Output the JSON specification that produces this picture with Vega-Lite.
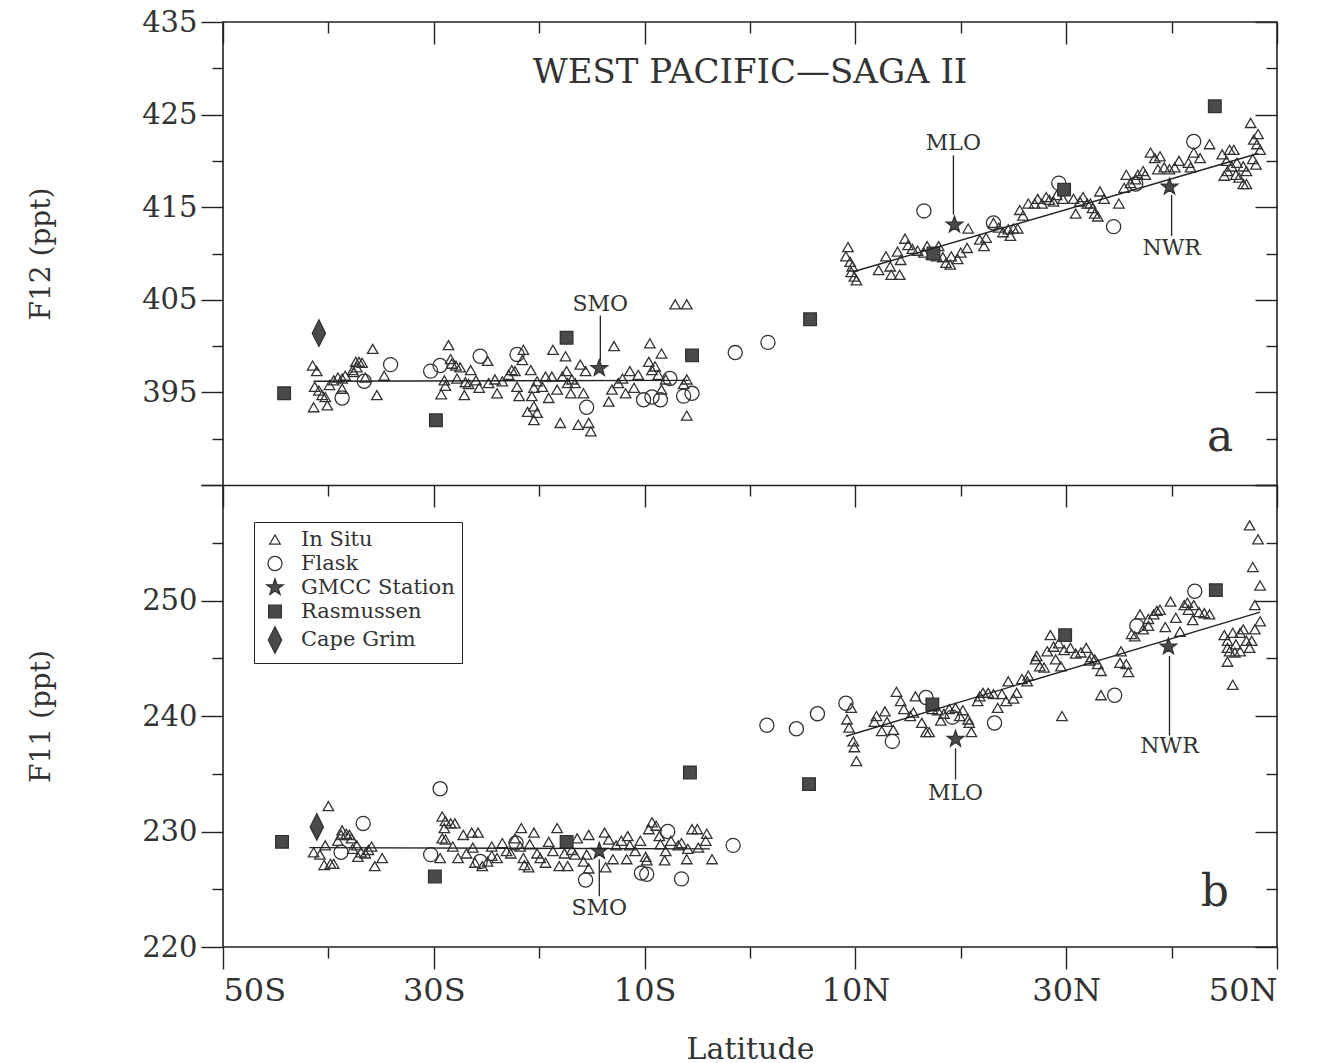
{
"$schema":"https://vega.github.io/schema/vega-lite/v6.json",
"background":"white",
"padding":{"left":27,"top":8,"right":10,"bottom":0},
"width":1054,
"height":925,
"config":{
 "view":{"stroke":"#222","strokeWidth":1.6},
 "font":"DejaVu Serif",
 "axis":{"domain":false,"grid":false,"tickColor":"#222","tickWidth":1.4,"labelFont":"DejaVu Serif","labelFontSize":29,"labelColor":"#333","titleFont":"DejaVu Serif","titleFontSize":28,"titleFontWeight":"normal","titleColor":"#333"},
 "legend":{"orient":"none","legendX":31,"legendY":500,"title":null,"strokeColor":"#222","padding":7,"labelFont":"DejaVu Serif","labelFontSize":21,"labelColor":"#333","rowPadding":2,"symbolStrokeColor":"#333","symbolBaseStrokeColor":"#333","symbolStrokeWidth":1.3,"labelOffset":12,"labelLimit":400},
 "text":{"font":"DejaVu Serif","color":"#333"}
},
"resolve":{"scale":{"y":"independent"},"axis":{"x":"independent","y":"independent"}},
"datasets":{
 "f12":[
{"lat":-41.5,"ppt":397.9,"type":"In Situ"},{"lat":-41.1,"ppt":397.3,"type":"In Situ"},{"lat":-41.3,"ppt":395.6,"type":"In Situ"},{"lat":-40.9,"ppt":395.2,"type":"In Situ"},{"lat":-40.6,"ppt":394.7,"type":"In Situ"},{"lat":-40.3,"ppt":394.5,"type":"In Situ"},{"lat":-41.4,"ppt":393.4,"type":"In Situ"},{"lat":-40.1,"ppt":393.6,"type":"In Situ"},{"lat":-39.9,"ppt":395.8,"type":"In Situ"},{"lat":-39.5,"ppt":396.3,"type":"In Situ"},{"lat":-39.1,"ppt":396.6,"type":"In Situ"},{"lat":-38.7,"ppt":396.5,"type":"In Situ"},{"lat":-38.4,"ppt":396.8,"type":"In Situ"},{"lat":-38.7,"ppt":395.4,"type":"In Situ"},{"lat":-37.7,"ppt":397.4,"type":"In Situ"},{"lat":-37.4,"ppt":398.3,"type":"In Situ"},{"lat":-37.1,"ppt":398.3,"type":"In Situ"},{"lat":-36.8,"ppt":398.2,"type":"In Situ"},{"lat":-37.3,"ppt":397.7,"type":"In Situ"},{"lat":-37.6,"ppt":397.2,"type":"In Situ"},{"lat":-36.5,"ppt":396.6,"type":"In Situ"},{"lat":-35.8,"ppt":399.7,"type":"In Situ"},{"lat":-34.7,"ppt":396.8,"type":"In Situ"},{"lat":-35.4,"ppt":394.7,"type":"In Situ"},
{"lat":-28.6,"ppt":400.1,"type":"In Situ"},{"lat":-28.4,"ppt":398.6,"type":"In Situ"},{"lat":-28.3,"ppt":398.1,"type":"In Situ"},{"lat":-27.9,"ppt":397.9,"type":"In Situ"},{"lat":-27.5,"ppt":397.7,"type":"In Situ"},{"lat":-29.0,"ppt":396.3,"type":"In Situ"},{"lat":-29.3,"ppt":394.8,"type":"In Situ"},{"lat":-28.9,"ppt":395.7,"type":"In Situ"},{"lat":-27.8,"ppt":396.5,"type":"In Situ"},{"lat":-27.0,"ppt":396.1,"type":"In Situ"},{"lat":-26.5,"ppt":397.4,"type":"In Situ"},{"lat":-26.7,"ppt":395.9,"type":"In Situ"},{"lat":-26.0,"ppt":396.3,"type":"In Situ"},{"lat":-27.1,"ppt":394.7,"type":"In Situ"},{"lat":-25.7,"ppt":395.5,"type":"In Situ"},{"lat":-24.9,"ppt":398.4,"type":"In Situ"},{"lat":-24.8,"ppt":396.0,"type":"In Situ"},{"lat":-24.2,"ppt":396.4,"type":"In Situ"},{"lat":-24.0,"ppt":394.9,"type":"In Situ"},{"lat":-23.5,"ppt":396.2,"type":"In Situ"},{"lat":-22.9,"ppt":396.9,"type":"In Situ"},{"lat":-22.6,"ppt":397.4,"type":"In Situ"},{"lat":-22.3,"ppt":397.3,"type":"In Situ"},{"lat":-22.1,"ppt":395.6,"type":"In Situ"},{"lat":-21.9,"ppt":394.6,"type":"In Situ"},{"lat":-21.5,"ppt":399.6,"type":"In Situ"},{"lat":-21.6,"ppt":398.5,"type":"In Situ"},{"lat":-20.8,"ppt":397.4,"type":"In Situ"},{"lat":-20.7,"ppt":394.6,"type":"In Situ"},{"lat":-20.5,"ppt":395.5,"type":"In Situ"},{"lat":-20.2,"ppt":396.2,"type":"In Situ"},{"lat":-19.7,"ppt":395.6,"type":"In Situ"},{"lat":-19.4,"ppt":396.7,"type":"In Situ"},{"lat":-19.1,"ppt":394.4,"type":"In Situ"},{"lat":-18.8,"ppt":396.7,"type":"In Situ"},{"lat":-18.7,"ppt":399.6,"type":"In Situ"},{"lat":-18.3,"ppt":395.3,"type":"In Situ"},{"lat":-17.8,"ppt":396.7,"type":"In Situ"},{"lat":-17.5,"ppt":398.9,"type":"In Situ"},{"lat":-17.4,"ppt":397.3,"type":"In Situ"},{"lat":-17.3,"ppt":396.0,"type":"In Situ"},{"lat":-17.0,"ppt":394.9,"type":"In Situ"},{"lat":-16.9,"ppt":396.4,"type":"In Situ"},{"lat":-16.6,"ppt":396.0,"type":"In Situ"},{"lat":-16.1,"ppt":398.0,"type":"In Situ"},{"lat":-15.8,"ppt":394.9,"type":"In Situ"},{"lat":-15.6,"ppt":397.3,"type":"In Situ"},{"lat":-21.1,"ppt":392.9,"type":"In Situ"},{"lat":-20.5,"ppt":393.5,"type":"In Situ"},{"lat":-20.2,"ppt":392.8,"type":"In Situ"},{"lat":-20.5,"ppt":392.0,"type":"In Situ"},{"lat":-18.0,"ppt":391.7,"type":"In Situ"},{"lat":-16.3,"ppt":391.5,"type":"In Situ"},{"lat":-15.3,"ppt":391.7,"type":"In Situ"},{"lat":-15.1,"ppt":390.8,"type":"In Situ"},
{"lat":-13.4,"ppt":394.0,"type":"In Situ"},{"lat":-12.9,"ppt":400.0,"type":"In Situ"},{"lat":-13.1,"ppt":395.3,"type":"In Situ"},{"lat":-12.5,"ppt":396.0,"type":"In Situ"},{"lat":-12.1,"ppt":396.5,"type":"In Situ"},{"lat":-11.8,"ppt":394.9,"type":"In Situ"},{"lat":-11.4,"ppt":397.3,"type":"In Situ"},{"lat":-11.0,"ppt":395.5,"type":"In Situ"},{"lat":-10.6,"ppt":396.9,"type":"In Situ"},{"lat":-9.5,"ppt":400.3,"type":"In Situ"},{"lat":-9.6,"ppt":398.3,"type":"In Situ"},{"lat":-9.3,"ppt":397.4,"type":"In Situ"},{"lat":-9.0,"ppt":397.8,"type":"In Situ"},{"lat":-8.7,"ppt":396.9,"type":"In Situ"},{"lat":-8.4,"ppt":399.2,"type":"In Situ"},{"lat":-8.4,"ppt":395.3,"type":"In Situ"},{"lat":-8.0,"ppt":396.4,"type":"In Situ"},{"lat":-7.1,"ppt":404.5,"type":"In Situ"},{"lat":-6.0,"ppt":404.5,"type":"In Situ"},{"lat":-6.3,"ppt":395.9,"type":"In Situ"},{"lat":-6.0,"ppt":392.5,"type":"In Situ"},{"lat":-6.0,"ppt":396.4,"type":"In Situ"},
{"lat":9.3,"ppt":410.7,"type":"In Situ"},{"lat":9.1,"ppt":409.7,"type":"In Situ"},{"lat":9.5,"ppt":409.1,"type":"In Situ"},{"lat":9.7,"ppt":408.6,"type":"In Situ"},{"lat":9.6,"ppt":408.0,"type":"In Situ"},{"lat":9.9,"ppt":407.5,"type":"In Situ"},{"lat":10.1,"ppt":407.1,"type":"In Situ"},{"lat":12.2,"ppt":408.2,"type":"In Situ"},{"lat":12.9,"ppt":409.7,"type":"In Situ"},{"lat":13.3,"ppt":408.6,"type":"In Situ"},{"lat":13.4,"ppt":407.7,"type":"In Situ"},{"lat":14.2,"ppt":407.7,"type":"In Situ"},{"lat":14.0,"ppt":410.2,"type":"In Situ"},{"lat":14.3,"ppt":409.3,"type":"In Situ"},{"lat":14.7,"ppt":411.6,"type":"In Situ"},{"lat":15.0,"ppt":410.9,"type":"In Situ"},{"lat":15.4,"ppt":410.5,"type":"In Situ"},{"lat":15.9,"ppt":410.3,"type":"In Situ"},{"lat":16.5,"ppt":410.1,"type":"In Situ"},{"lat":16.8,"ppt":410.8,"type":"In Situ"},{"lat":17.2,"ppt":409.9,"type":"In Situ"},{"lat":17.7,"ppt":409.7,"type":"In Situ"},{"lat":17.9,"ppt":410.8,"type":"In Situ"},{"lat":18.3,"ppt":409.6,"type":"In Situ"},{"lat":18.6,"ppt":409.0,"type":"In Situ"},{"lat":19.0,"ppt":408.8,"type":"In Situ"},{"lat":19.1,"ppt":409.7,"type":"In Situ"},{"lat":19.7,"ppt":409.4,"type":"In Situ"},{"lat":20.0,"ppt":410.1,"type":"In Situ"},{"lat":20.6,"ppt":410.6,"type":"In Situ"},{"lat":20.7,"ppt":412.7,"type":"In Situ"},{"lat":21.8,"ppt":411.5,"type":"In Situ"},{"lat":22.2,"ppt":410.8,"type":"In Situ"},{"lat":22.4,"ppt":411.7,"type":"In Situ"},{"lat":23.1,"ppt":413.3,"type":"In Situ"},{"lat":23.6,"ppt":412.8,"type":"In Situ"},{"lat":24.0,"ppt":412.3,"type":"In Situ"},{"lat":24.5,"ppt":412.6,"type":"In Situ"},{"lat":24.7,"ppt":411.9,"type":"In Situ"},{"lat":25.0,"ppt":412.7,"type":"In Situ"},{"lat":25.4,"ppt":412.7,"type":"In Situ"},{"lat":25.6,"ppt":414.7,"type":"In Situ"},{"lat":25.9,"ppt":414.1,"type":"In Situ"},{"lat":26.4,"ppt":415.4,"type":"In Situ"},{"lat":27.0,"ppt":415.4,"type":"In Situ"},{"lat":27.3,"ppt":415.9,"type":"In Situ"},{"lat":27.7,"ppt":415.4,"type":"In Situ"},{"lat":28.1,"ppt":416.1,"type":"In Situ"},{"lat":28.4,"ppt":415.8,"type":"In Situ"},{"lat":28.8,"ppt":415.6,"type":"In Situ"},{"lat":29.1,"ppt":416.3,"type":"In Situ"},{"lat":29.7,"ppt":415.9,"type":"In Situ"},{"lat":30.7,"ppt":415.9,"type":"In Situ"},{"lat":30.9,"ppt":414.3,"type":"In Situ"},{"lat":31.3,"ppt":415.6,"type":"In Situ"},{"lat":31.6,"ppt":416.1,"type":"In Situ"},{"lat":32.0,"ppt":415.4,"type":"In Situ"},{"lat":32.3,"ppt":415.4,"type":"In Situ"},{"lat":32.5,"ppt":414.9,"type":"In Situ"},{"lat":32.7,"ppt":414.3,"type":"In Situ"},{"lat":33.0,"ppt":414.0,"type":"In Situ"},{"lat":33.2,"ppt":416.7,"type":"In Situ"},{"lat":33.6,"ppt":415.9,"type":"In Situ"},{"lat":35.0,"ppt":415.4,"type":"In Situ"},{"lat":35.5,"ppt":417.1,"type":"In Situ"},{"lat":35.7,"ppt":418.5,"type":"In Situ"},{"lat":36.1,"ppt":417.6,"type":"In Situ"},{"lat":36.6,"ppt":418.0,"type":"In Situ"},{"lat":36.8,"ppt":418.5,"type":"In Situ"},{"lat":37.3,"ppt":418.9,"type":"In Situ"},{"lat":37.5,"ppt":418.5,"type":"In Situ"},{"lat":38.0,"ppt":420.9,"type":"In Situ"},{"lat":38.4,"ppt":420.3,"type":"In Situ"},{"lat":38.9,"ppt":420.5,"type":"In Situ"},{"lat":38.7,"ppt":419.1,"type":"In Situ"},{"lat":39.3,"ppt":419.3,"type":"In Situ"},{"lat":39.8,"ppt":419.1,"type":"In Situ"},{"lat":40.3,"ppt":419.3,"type":"In Situ"},{"lat":40.7,"ppt":420.0,"type":"In Situ"},{"lat":41.6,"ppt":419.8,"type":"In Situ"},{"lat":41.8,"ppt":419.3,"type":"In Situ"},{"lat":42.1,"ppt":420.9,"type":"In Situ"},{"lat":42.7,"ppt":420.3,"type":"In Situ"},{"lat":43.6,"ppt":421.8,"type":"In Situ"},{"lat":44.8,"ppt":420.7,"type":"In Situ"},{"lat":45.2,"ppt":420.0,"type":"In Situ"},{"lat":45.5,"ppt":421.2,"type":"In Situ"},{"lat":45.9,"ppt":421.2,"type":"In Situ"},{"lat":45.0,"ppt":418.4,"type":"In Situ"},{"lat":45.3,"ppt":418.9,"type":"In Situ"},{"lat":45.7,"ppt":419.4,"type":"In Situ"},{"lat":46.1,"ppt":418.5,"type":"In Situ"},{"lat":46.4,"ppt":418.2,"type":"In Situ"},{"lat":46.8,"ppt":417.5,"type":"In Situ"},{"lat":47.1,"ppt":417.5,"type":"In Situ"},{"lat":47.5,"ppt":424.1,"type":"In Situ"},{"lat":47.8,"ppt":422.3,"type":"In Situ"},{"lat":48.1,"ppt":421.8,"type":"In Situ"},{"lat":48.4,"ppt":421.2,"type":"In Situ"},{"lat":48.2,"ppt":422.9,"type":"In Situ"},{"lat":47.7,"ppt":420.2,"type":"In Situ"},{"lat":48.0,"ppt":419.6,"type":"In Situ"},{"lat":46.8,"ppt":419.4,"type":"In Situ"},{"lat":47.1,"ppt":418.9,"type":"In Situ"},{"lat":46.2,"ppt":419.8,"type":"In Situ"},
{"lat":-34.1,"ppt":398.0,"type":"Flask"},{"lat":-36.6,"ppt":396.2,"type":"Flask"},{"lat":-38.7,"ppt":394.4,"type":"Flask"},{"lat":-30.3,"ppt":397.3,"type":"Flask"},{"lat":-29.4,"ppt":397.9,"type":"Flask"},{"lat":-25.6,"ppt":398.9,"type":"Flask"},{"lat":-22.1,"ppt":399.1,"type":"Flask"},{"lat":-15.5,"ppt":393.4,"type":"Flask"},{"lat":-10.1,"ppt":394.2,"type":"Flask"},{"lat":-9.3,"ppt":394.5,"type":"Flask"},{"lat":-8.5,"ppt":394.2,"type":"Flask"},{"lat":-7.6,"ppt":396.5,"type":"Flask"},{"lat":-6.3,"ppt":394.6,"type":"Flask"},{"lat":-5.5,"ppt":394.9,"type":"Flask"},{"lat":-1.4,"ppt":399.3,"type":"Flask"},{"lat":1.7,"ppt":400.4,"type":"Flask"},{"lat":16.5,"ppt":414.6,"type":"Flask"},{"lat":23.1,"ppt":413.3,"type":"Flask"},{"lat":29.3,"ppt":417.6,"type":"Flask"},{"lat":34.5,"ppt":412.9,"type":"Flask"},{"lat":36.6,"ppt":417.5,"type":"Flask"},{"lat":42.1,"ppt":422.1,"type":"Flask"},
{"lat":-14.3,"ppt":397.6,"type":"GMCC Station"},{"lat":19.4,"ppt":413.1,"type":"GMCC Station"},{"lat":39.8,"ppt":417.2,"type":"GMCC Station"},
{"lat":-44.2,"ppt":394.9,"type":"Rasmussen"},{"lat":-29.8,"ppt":392.0,"type":"Rasmussen"},{"lat":-17.4,"ppt":400.9,"type":"Rasmussen"},{"lat":-5.5,"ppt":399.0,"type":"Rasmussen"},{"lat":5.7,"ppt":402.9,"type":"Rasmussen"},{"lat":17.4,"ppt":410.0,"type":"Rasmussen"},{"lat":29.8,"ppt":416.9,"type":"Rasmussen"},{"lat":44.1,"ppt":425.9,"type":"Rasmussen"},
{"lat":-40.9,"ppt":401.4,"type":"Cape Grim"}
 ],
 "f11":[
{"lat":-40.0,"ppt":232.2,"type":"In Situ"},{"lat":-41.4,"ppt":228.2,"type":"In Situ"},{"lat":-40.8,"ppt":228.0,"type":"In Situ"},{"lat":-40.3,"ppt":228.8,"type":"In Situ"},{"lat":-40.4,"ppt":227.1,"type":"In Situ"},{"lat":-39.8,"ppt":227.2,"type":"In Situ"},{"lat":-39.5,"ppt":227.2,"type":"In Situ"},{"lat":-39.1,"ppt":229.2,"type":"In Situ"},{"lat":-38.8,"ppt":229.7,"type":"In Situ"},{"lat":-38.7,"ppt":230.1,"type":"In Situ"},{"lat":-38.3,"ppt":229.8,"type":"In Situ"},{"lat":-38.0,"ppt":229.7,"type":"In Situ"},{"lat":-37.8,"ppt":229.4,"type":"In Situ"},{"lat":-37.7,"ppt":228.5,"type":"In Situ"},{"lat":-37.3,"ppt":228.8,"type":"In Situ"},{"lat":-37.2,"ppt":227.8,"type":"In Situ"},{"lat":-36.9,"ppt":228.2,"type":"In Situ"},{"lat":-36.5,"ppt":228.1,"type":"In Situ"},{"lat":-36.2,"ppt":228.4,"type":"In Situ"},{"lat":-35.9,"ppt":228.7,"type":"In Situ"},{"lat":-35.6,"ppt":227.0,"type":"In Situ"},{"lat":-34.9,"ppt":227.7,"type":"In Situ"},
{"lat":-29.2,"ppt":231.3,"type":"In Situ"},{"lat":-28.9,"ppt":230.9,"type":"In Situ"},{"lat":-28.4,"ppt":230.7,"type":"In Situ"},{"lat":-28.0,"ppt":230.7,"type":"In Situ"},{"lat":-29.0,"ppt":230.3,"type":"In Situ"},{"lat":-29.2,"ppt":229.4,"type":"In Situ"},{"lat":-28.9,"ppt":229.3,"type":"In Situ"},{"lat":-29.4,"ppt":227.7,"type":"In Situ"},{"lat":-28.2,"ppt":228.7,"type":"In Situ"},{"lat":-27.7,"ppt":227.7,"type":"In Situ"},{"lat":-27.2,"ppt":229.7,"type":"In Situ"},{"lat":-26.9,"ppt":228.1,"type":"In Situ"},{"lat":-26.4,"ppt":229.9,"type":"In Situ"},{"lat":-26.3,"ppt":228.6,"type":"In Situ"},{"lat":-25.8,"ppt":229.9,"type":"In Situ"},{"lat":-26.1,"ppt":227.3,"type":"In Situ"},{"lat":-25.4,"ppt":227.0,"type":"In Situ"},{"lat":-24.9,"ppt":227.4,"type":"In Situ"},{"lat":-24.5,"ppt":228.7,"type":"In Situ"},{"lat":-24.5,"ppt":227.9,"type":"In Situ"},{"lat":-24.0,"ppt":227.7,"type":"In Situ"},{"lat":-23.5,"ppt":229.0,"type":"In Situ"},{"lat":-23.1,"ppt":228.3,"type":"In Situ"},{"lat":-22.7,"ppt":228.1,"type":"In Situ"},{"lat":-22.3,"ppt":229.4,"type":"In Situ"},{"lat":-21.7,"ppt":230.3,"type":"In Situ"},{"lat":-21.8,"ppt":228.7,"type":"In Situ"},{"lat":-21.5,"ppt":227.7,"type":"In Situ"},{"lat":-21.4,"ppt":227.1,"type":"In Situ"},{"lat":-21.0,"ppt":226.9,"type":"In Situ"},{"lat":-20.9,"ppt":228.9,"type":"In Situ"},{"lat":-20.5,"ppt":229.9,"type":"In Situ"},{"lat":-20.2,"ppt":228.1,"type":"In Situ"},{"lat":-19.9,"ppt":227.7,"type":"In Situ"},{"lat":-19.4,"ppt":227.3,"type":"In Situ"},{"lat":-19.1,"ppt":229.1,"type":"In Situ"},{"lat":-18.7,"ppt":228.3,"type":"In Situ"},{"lat":-18.3,"ppt":230.3,"type":"In Situ"},{"lat":-18.1,"ppt":227.0,"type":"In Situ"},{"lat":-17.6,"ppt":228.1,"type":"In Situ"},{"lat":-17.3,"ppt":227.0,"type":"In Situ"},{"lat":-16.9,"ppt":228.4,"type":"In Situ"},{"lat":-16.6,"ppt":228.0,"type":"In Situ"},{"lat":-16.4,"ppt":229.4,"type":"In Situ"},{"lat":-15.8,"ppt":227.4,"type":"In Situ"},{"lat":-15.5,"ppt":228.0,"type":"In Situ"},{"lat":-15.3,"ppt":226.8,"type":"In Situ"},{"lat":-15.3,"ppt":229.7,"type":"In Situ"},{"lat":-13.8,"ppt":229.9,"type":"In Situ"},{"lat":-13.7,"ppt":226.9,"type":"In Situ"},{"lat":-13.4,"ppt":229.3,"type":"In Situ"},{"lat":-13.0,"ppt":227.6,"type":"In Situ"},{"lat":-12.7,"ppt":228.8,"type":"In Situ"},{"lat":-12.2,"ppt":229.2,"type":"In Situ"},{"lat":-11.6,"ppt":229.6,"type":"In Situ"},{"lat":-11.7,"ppt":227.6,"type":"In Situ"},{"lat":-11.4,"ppt":228.8,"type":"In Situ"},{"lat":-10.9,"ppt":228.3,"type":"In Situ"},{"lat":-10.4,"ppt":229.2,"type":"In Situ"},{"lat":-9.9,"ppt":227.8,"type":"In Situ"},{"lat":-9.8,"ppt":227.5,"type":"In Situ"},{"lat":-9.6,"ppt":230.2,"type":"In Situ"},{"lat":-9.3,"ppt":230.8,"type":"In Situ"},{"lat":-8.9,"ppt":230.5,"type":"In Situ"},{"lat":-8.6,"ppt":229.6,"type":"In Situ"},{"lat":-8.5,"ppt":228.9,"type":"In Situ"},{"lat":-8.1,"ppt":227.5,"type":"In Situ"},{"lat":-8.0,"ppt":228.3,"type":"In Situ"},{"lat":-7.5,"ppt":229.2,"type":"In Situ"},{"lat":-6.8,"ppt":228.8,"type":"In Situ"},{"lat":-6.5,"ppt":229.0,"type":"In Situ"},{"lat":-6.0,"ppt":227.6,"type":"In Situ"},{"lat":-5.9,"ppt":228.5,"type":"In Situ"},{"lat":-5.5,"ppt":230.2,"type":"In Situ"},{"lat":-5.0,"ppt":230.2,"type":"In Situ"},{"lat":-4.9,"ppt":228.6,"type":"In Situ"},{"lat":-4.2,"ppt":229.2,"type":"In Situ"},{"lat":-4.1,"ppt":229.8,"type":"In Situ"},{"lat":-3.6,"ppt":227.6,"type":"In Situ"},
{"lat":9.6,"ppt":240.7,"type":"In Situ"},{"lat":9.2,"ppt":239.7,"type":"In Situ"},{"lat":9.4,"ppt":239.0,"type":"In Situ"},{"lat":9.8,"ppt":237.8,"type":"In Situ"},{"lat":9.9,"ppt":237.3,"type":"In Situ"},{"lat":10.1,"ppt":236.1,"type":"In Situ"},{"lat":11.8,"ppt":239.5,"type":"In Situ"},{"lat":12.0,"ppt":240.0,"type":"In Situ"},{"lat":12.5,"ppt":238.7,"type":"In Situ"},{"lat":12.8,"ppt":240.4,"type":"In Situ"},{"lat":13.0,"ppt":239.5,"type":"In Situ"},{"lat":13.6,"ppt":238.8,"type":"In Situ"},{"lat":13.9,"ppt":242.1,"type":"In Situ"},{"lat":14.3,"ppt":241.3,"type":"In Situ"},{"lat":14.6,"ppt":240.6,"type":"In Situ"},{"lat":15.2,"ppt":240.0,"type":"In Situ"},{"lat":15.5,"ppt":240.3,"type":"In Situ"},{"lat":15.7,"ppt":241.7,"type":"In Situ"},{"lat":16.3,"ppt":239.4,"type":"In Situ"},{"lat":16.7,"ppt":238.6,"type":"In Situ"},{"lat":17.0,"ppt":238.6,"type":"In Situ"},{"lat":17.3,"ppt":240.6,"type":"In Situ"},{"lat":17.8,"ppt":240.5,"type":"In Situ"},{"lat":18.1,"ppt":239.6,"type":"In Situ"},{"lat":18.4,"ppt":240.2,"type":"In Situ"},{"lat":18.9,"ppt":240.6,"type":"In Situ"},{"lat":19.5,"ppt":240.7,"type":"In Situ"},{"lat":19.9,"ppt":240.0,"type":"In Situ"},{"lat":20.2,"ppt":240.5,"type":"In Situ"},{"lat":20.7,"ppt":239.7,"type":"In Situ"},{"lat":20.8,"ppt":239.4,"type":"In Situ"},{"lat":21.0,"ppt":238.6,"type":"In Situ"},{"lat":21.6,"ppt":241.3,"type":"In Situ"},{"lat":21.8,"ppt":241.7,"type":"In Situ"},{"lat":22.1,"ppt":242.0,"type":"In Situ"},{"lat":22.6,"ppt":242.0,"type":"In Situ"},{"lat":23.1,"ppt":241.9,"type":"In Situ"},{"lat":23.5,"ppt":240.7,"type":"In Situ"},{"lat":23.9,"ppt":241.9,"type":"In Situ"},{"lat":24.3,"ppt":241.3,"type":"In Situ"},{"lat":24.5,"ppt":243.0,"type":"In Situ"},{"lat":25.0,"ppt":241.5,"type":"In Situ"},{"lat":25.3,"ppt":242.0,"type":"In Situ"},{"lat":25.8,"ppt":243.2,"type":"In Situ"},{"lat":26.3,"ppt":243.0,"type":"In Situ"},{"lat":26.4,"ppt":243.5,"type":"In Situ"},{"lat":27.1,"ppt":244.9,"type":"In Situ"},{"lat":27.2,"ppt":245.2,"type":"In Situ"},{"lat":27.5,"ppt":244.3,"type":"In Situ"},{"lat":27.9,"ppt":244.2,"type":"In Situ"},{"lat":28.2,"ppt":245.6,"type":"In Situ"},{"lat":28.5,"ppt":247.0,"type":"In Situ"},{"lat":28.8,"ppt":246.0,"type":"In Situ"},{"lat":29.0,"ppt":244.9,"type":"In Situ"},{"lat":29.3,"ppt":246.3,"type":"In Situ"},{"lat":29.5,"ppt":244.3,"type":"In Situ"},{"lat":29.8,"ppt":245.7,"type":"In Situ"},{"lat":30.4,"ppt":245.9,"type":"In Situ"},{"lat":30.9,"ppt":245.4,"type":"In Situ"},{"lat":31.4,"ppt":245.5,"type":"In Situ"},{"lat":31.9,"ppt":245.9,"type":"In Situ"},{"lat":32.2,"ppt":244.8,"type":"In Situ"},{"lat":32.4,"ppt":245.1,"type":"In Situ"},{"lat":32.7,"ppt":244.9,"type":"In Situ"},{"lat":33.0,"ppt":244.5,"type":"In Situ"},{"lat":33.3,"ppt":243.9,"type":"In Situ"},{"lat":33.3,"ppt":241.8,"type":"In Situ"},{"lat":35.2,"ppt":245.6,"type":"In Situ"},{"lat":35.1,"ppt":244.6,"type":"In Situ"},{"lat":35.7,"ppt":244.5,"type":"In Situ"},{"lat":35.9,"ppt":243.8,"type":"In Situ"},{"lat":29.6,"ppt":240.0,"type":"In Situ"},{"lat":36.2,"ppt":247.1,"type":"In Situ"},{"lat":36.5,"ppt":246.9,"type":"In Situ"},{"lat":37.0,"ppt":248.8,"type":"In Situ"},{"lat":37.3,"ppt":247.5,"type":"In Situ"},{"lat":37.8,"ppt":247.8,"type":"In Situ"},{"lat":37.8,"ppt":248.4,"type":"In Situ"},{"lat":38.3,"ppt":248.8,"type":"In Situ"},{"lat":38.6,"ppt":249.1,"type":"In Situ"},{"lat":38.9,"ppt":249.2,"type":"In Situ"},{"lat":39.4,"ppt":247.7,"type":"In Situ"},{"lat":39.9,"ppt":249.9,"type":"In Situ"},{"lat":40.4,"ppt":248.5,"type":"In Situ"},{"lat":40.8,"ppt":247.3,"type":"In Situ"},{"lat":41.2,"ppt":249.6,"type":"In Situ"},{"lat":41.5,"ppt":249.8,"type":"In Situ"},{"lat":41.6,"ppt":249.2,"type":"In Situ"},{"lat":42.0,"ppt":248.3,"type":"In Situ"},{"lat":42.1,"ppt":249.6,"type":"In Situ"},{"lat":42.6,"ppt":249.0,"type":"In Situ"},{"lat":43.1,"ppt":248.9,"type":"In Situ"},{"lat":43.6,"ppt":248.8,"type":"In Situ"},{"lat":45.0,"ppt":247.0,"type":"In Situ"},{"lat":45.3,"ppt":246.5,"type":"In Situ"},{"lat":45.5,"ppt":245.6,"type":"In Situ"},{"lat":45.8,"ppt":247.2,"type":"In Situ"},{"lat":46.1,"ppt":246.2,"type":"In Situ"},{"lat":46.5,"ppt":247.2,"type":"In Situ"},{"lat":46.8,"ppt":247.5,"type":"In Situ"},{"lat":47.1,"ppt":246.5,"type":"In Situ"},{"lat":47.4,"ppt":245.9,"type":"In Situ"},{"lat":45.3,"ppt":244.7,"type":"In Situ"},{"lat":45.8,"ppt":242.7,"type":"In Situ"},{"lat":47.4,"ppt":256.5,"type":"In Situ"},{"lat":48.2,"ppt":255.3,"type":"In Situ"},{"lat":47.7,"ppt":252.9,"type":"In Situ"},{"lat":48.4,"ppt":251.3,"type":"In Situ"},{"lat":47.9,"ppt":249.6,"type":"In Situ"},{"lat":48.4,"ppt":248.2,"type":"In Situ"},{"lat":47.9,"ppt":247.5,"type":"In Situ"},{"lat":47.6,"ppt":246.5,"type":"In Situ"},{"lat":46.5,"ppt":245.6,"type":"In Situ"},{"lat":46.0,"ppt":245.5,"type":"In Situ"},{"lat":45.3,"ppt":245.9,"type":"In Situ"},
{"lat":-29.4,"ppt":233.7,"type":"Flask"},{"lat":-36.7,"ppt":230.7,"type":"Flask"},{"lat":-38.8,"ppt":228.2,"type":"Flask"},{"lat":-30.3,"ppt":228.0,"type":"Flask"},{"lat":-15.6,"ppt":225.8,"type":"Flask"},{"lat":-10.3,"ppt":226.4,"type":"Flask"},{"lat":-9.8,"ppt":226.3,"type":"Flask"},{"lat":-6.5,"ppt":225.9,"type":"Flask"},{"lat":-1.6,"ppt":228.8,"type":"Flask"},{"lat":-22.2,"ppt":229.0,"type":"Flask"},{"lat":-25.6,"ppt":227.4,"type":"Flask"},{"lat":-7.8,"ppt":230.0,"type":"Flask"},{"lat":1.6,"ppt":239.2,"type":"Flask"},{"lat":4.4,"ppt":238.9,"type":"Flask"},{"lat":6.4,"ppt":240.2,"type":"Flask"},{"lat":9.1,"ppt":241.1,"type":"Flask"},{"lat":16.7,"ppt":241.6,"type":"Flask"},{"lat":19.2,"ppt":239.9,"type":"Flask"},{"lat":23.2,"ppt":239.4,"type":"Flask"},{"lat":34.6,"ppt":241.8,"type":"Flask"},{"lat":36.7,"ppt":247.8,"type":"Flask"},{"lat":42.2,"ppt":250.8,"type":"Flask"},{"lat":13.5,"ppt":237.8,"type":"Flask"},
{"lat":-14.3,"ppt":228.3,"type":"GMCC Station"},{"lat":19.5,"ppt":238.0,"type":"GMCC Station"},{"lat":39.7,"ppt":246.0,"type":"GMCC Station"},
{"lat":-44.4,"ppt":229.1,"type":"Rasmussen"},{"lat":-29.9,"ppt":226.1,"type":"Rasmussen"},{"lat":-17.4,"ppt":229.1,"type":"Rasmussen"},{"lat":-5.7,"ppt":235.1,"type":"Rasmussen"},{"lat":5.6,"ppt":234.1,"type":"Rasmussen"},{"lat":17.3,"ppt":241.0,"type":"Rasmussen"},{"lat":29.9,"ppt":247.0,"type":"Rasmussen"},{"lat":44.2,"ppt":250.9,"type":"Rasmussen"},
{"lat":-41.1,"ppt":230.4,"type":"Cape Grim"}
 ],
 "fit12":[{"seg":"S","lat":-41.4,"ppt":396.2},{"seg":"S","lat":-5.8,"ppt":396.3},{"seg":"N","lat":9.7,"ppt":408.0},{"seg":"N","lat":48.2,"ppt":420.8}],
 "fit11":[{"seg":"S","lat":-41.8,"ppt":228.6},{"seg":"S","lat":-3.8,"ppt":228.5},{"seg":"N","lat":9.1,"ppt":238.25},{"seg":"N","lat":48.4,"ppt":249.0}],
 "lead12":[{"lat":-14.2,"y1":398.4,"y2":403.3},{"lat":19.3,"y1":414.2,"y2":420.6},{"lat":40.0,"y1":411.9,"y2":416.3}],
 "lead11":[{"lat":-14.3,"y1":224.4,"y2":227.6},{"lat":19.5,"y1":234.5,"y2":237.2},{"lat":39.8,"y1":238.3,"y2":245.2}],
 "lab12":[{"lat":-14.2,"ppt":404.5,"label":"SMO"},{"lat":19.3,"ppt":421.9,"label":"MLO"},{"lat":40.0,"ppt":410.6,"label":"NWR"}],
 "lab11":[{"lat":-14.3,"ppt":223.4,"label":"SMO"},{"lat":19.5,"ppt":233.3,"label":"MLO"},{"lat":39.8,"ppt":237.4,"label":"NWR"}]
},
"layer":[
  {"data":{"name":"f12"},
   "mark":{"type":"point","filled":true,"opacity":1,"strokeWidth":1.3},
   "encoding":{
    "x":{"field":"lat","type":"quantitative","scale":{"domain":[-50,50],"nice":false,"zero":false},"axis":{"orient":"top","values":[-50,-30,-10,10,30,50],"tickSize":-22,"labels":false,"title":null}},
    "y":{"field":"ppt","type":"quantitative","scale":{"domain":[385,435],"range":[463,0],"nice":false,"zero":false},"axis":{"orient":"left","values":[385,395,405,415,425,435],"tickSize":22,"labelPadding":4,"labelExpr":"datum.value == 385 ? '' : datum.label","title":"F12 (ppt)","titlePadding":86}},
    "shape":{"field":"type","type":"nominal","title":null,"scale":{"domain":["In Situ","Flask","GMCC Station","Rasmussen","Cape Grim"],"range":["triangle-up","circle","M0,-1L0.235,-0.324L0.951,-0.309L0.38,0.124L0.588,0.809L0,0.4L-0.588,0.809L-0.38,0.124L-0.951,-0.309L-0.235,-0.324Z","square","M0,-1L0.5,0L0,1L-0.5,0Z"]},
      "legend":{"encode":{"symbols":{"update":{"stroke":{"value":"#333"},"strokeWidth":{"value":1.3}}}}}},
    "fill":{"field":"type","type":"nominal","title":null,"scale":{"domain":["In Situ","Flask","GMCC Station","Rasmussen","Cape Grim"],"range":["transparent","transparent","#4a4a4a","#4a4a4a","#4a4a4a"]}},
    "stroke":{"field":"type","type":"nominal","title":null,"scale":{"domain":["In Situ","Flask","GMCC Station","Rasmussen","Cape Grim"],"range":["#333","#333","#333","#333","#333"]}},
    "size":{"field":"type","type":"nominal","title":null,"scale":{"type":"ordinal","domain":["In Situ","Flask","GMCC Station","Rasmussen","Cape Grim"],"range":[110,200,300,160,700]}}
   }},
  {"data":{"name":"fit12"},
   "mark":{"type":"line","color":"#222","strokeWidth":1.4},
   "encoding":{
    "x":{"field":"lat","type":"quantitative","axis":{"orient":"top","values":[-40,-20,0,20,40],"tickSize":-11,"labels":false,"title":null}},
    "y":{"field":"ppt","type":"quantitative","scale":{"domain":[385,435],"range":[463,0],"nice":false,"zero":false},"axis":{"orient":"left","values":[390,400,410,420,430],"tickSize":11,"labels":false,"title":null}},
    "detail":{"field":"seg","type":"nominal"}
   }},
  {"data":{"name":"lead12"},
   "mark":{"type":"rule","color":"#222","strokeWidth":1.3},
   "encoding":{
    "x":{"field":"lat","type":"quantitative","axis":null},
    "y":{"field":"y1","type":"quantitative","scale":{"domain":[385,435],"range":[463,0],"nice":false,"zero":false},"axis":{"orient":"right","values":[385,395,405,415,425,435],"tickSize":-22,"labels":false,"title":null}},
    "y2":{"field":"y2"}
   }},
  {"data":{"name":"lab12"},
   "mark":{"type":"text","fontSize":22,"font":"DejaVu Serif","color":"#333"},
   "encoding":{
    "x":{"field":"lat","type":"quantitative","axis":null},
    "y":{"field":"ppt","type":"quantitative","scale":{"domain":[385,435],"range":[463,0],"nice":false,"zero":false},"axis":{"orient":"right","values":[390,400,410,420,430],"tickSize":-11,"labels":false,"title":null}},
    "text":{"field":"label"}
   }},
  {"data":{"values":[{"lat":44.6,"ppt":390.1,"label":"a"}]},
   "mark":{"type":"text","fontSize":44,"font":"DejaVu Serif","color":"#333"},
   "encoding":{"x":{"field":"lat","type":"quantitative","axis":null},"y":{"field":"ppt","type":"quantitative","scale":{"domain":[385,435],"range":[463,0],"nice":false,"zero":false},"axis":null},"text":{"field":"label"}}},
  {"data":{"values":[{"lat":0.0,"ppt":429.5,"label":"WEST PACIFIC—SAGA II"}]},
   "mark":{"type":"text","fontSize":34,"font":"DejaVu Serif","color":"#333"},
   "encoding":{"x":{"field":"lat","type":"quantitative","axis":null},"y":{"field":"ppt","type":"quantitative","scale":{"domain":[385,435],"range":[463,0],"nice":false,"zero":false},"axis":null},"text":{"field":"label"}}},
  {"data":{"name":"f11"},
   "mark":{"type":"point","filled":true,"opacity":1,"strokeWidth":1.3},
   "encoding":{
    "x":{"field":"lat","type":"quantitative","axis":{"orient":"bottom","values":[-50,-30,-10,10,30,50],"tickSize":22,"labelPadding":6,"labelFontSize":32,"labelExpr":"datum.value < 0 ? (-datum.value) + 'S' : datum.value + 'N'","title":"Latitude","titleFontSize":30,"titlePadding":28}},
    "y":{"field":"ppt","type":"quantitative","scale":{"domain":[220,260],"range":[925,463],"nice":false,"zero":false},"axis":{"orient":"left","values":[220,230,240,250,260],"tickSize":22,"labelPadding":4,"labelExpr":"datum.value == 260 ? '' : datum.label","title":"F11 (ppt)","titlePadding":86}},
    "shape":{"field":"type","type":"nominal","title":null,"scale":{"domain":["In Situ","Flask","GMCC Station","Rasmussen","Cape Grim"],"range":["triangle-up","circle","M0,-1L0.235,-0.324L0.951,-0.309L0.38,0.124L0.588,0.809L0,0.4L-0.588,0.809L-0.38,0.124L-0.951,-0.309L-0.235,-0.324Z","square","M0,-1L0.5,0L0,1L-0.5,0Z"]},
      "legend":{"encode":{"symbols":{"update":{"stroke":{"value":"#333"},"strokeWidth":{"value":1.3}}}}}},
    "fill":{"field":"type","type":"nominal","title":null,"scale":{"domain":["In Situ","Flask","GMCC Station","Rasmussen","Cape Grim"],"range":["transparent","transparent","#4a4a4a","#4a4a4a","#4a4a4a"]}},
    "stroke":{"field":"type","type":"nominal","title":null,"scale":{"domain":["In Situ","Flask","GMCC Station","Rasmussen","Cape Grim"],"range":["#333","#333","#333","#333","#333"]}},
    "size":{"field":"type","type":"nominal","title":null,"scale":{"type":"ordinal","domain":["In Situ","Flask","GMCC Station","Rasmussen","Cape Grim"],"range":[110,200,300,160,700]}}
   }},
  {"data":{"name":"fit11"},
   "mark":{"type":"line","color":"#222","strokeWidth":1.4},
   "encoding":{
    "x":{"field":"lat","type":"quantitative","axis":{"orient":"bottom","values":[-40,-20,0,20,40],"tickSize":11,"labels":false,"title":null}},
    "y":{"field":"ppt","type":"quantitative","scale":{"domain":[220,260],"range":[925,463],"nice":false,"zero":false},"axis":{"orient":"left","values":[225,235,245,255],"tickSize":11,"labels":false,"title":null}},
    "detail":{"field":"seg","type":"nominal"}
   }},
  {"data":{"name":"lead11"},
   "mark":{"type":"rule","color":"#222","strokeWidth":1.3},
   "encoding":{
    "x":{"field":"lat","type":"quantitative","axis":{"orient":"top","offset":-463,"domain":true,"domainColor":"#222","domainWidth":1.6,"values":[-50,-30,-10,10,30,50],"tickSize":-22,"labels":false,"title":null}},
    "y":{"field":"y1","type":"quantitative","scale":{"domain":[220,260],"range":[925,463],"nice":false,"zero":false},"axis":{"orient":"right","values":[220,230,240,250,260],"tickSize":-22,"labels":false,"title":null}},
    "y2":{"field":"y2"}
   }},
  {"data":{"name":"lab11"},
   "mark":{"type":"text","fontSize":22,"font":"DejaVu Serif","color":"#333"},
   "encoding":{
    "x":{"field":"lat","type":"quantitative","axis":{"orient":"top","offset":-463,"values":[-40,-20,0,20,40],"tickSize":-11,"labels":false,"title":null}},
    "y":{"field":"ppt","type":"quantitative","scale":{"domain":[220,260],"range":[925,463],"nice":false,"zero":false},"axis":{"orient":"right","values":[225,235,245,255],"tickSize":-11,"labels":false,"title":null}},
    "text":{"field":"label"}
   }},
  {"data":{"values":[{"lat":44.1,"ppt":224.7,"label":"b"}]},
   "mark":{"type":"text","fontSize":44,"font":"DejaVu Serif","color":"#333"},
   "encoding":{"x":{"field":"lat","type":"quantitative","axis":null},"y":{"field":"ppt","type":"quantitative","scale":{"domain":[220,260],"range":[925,463],"nice":false,"zero":false},"axis":null},"text":{"field":"label"}}}
]
}
